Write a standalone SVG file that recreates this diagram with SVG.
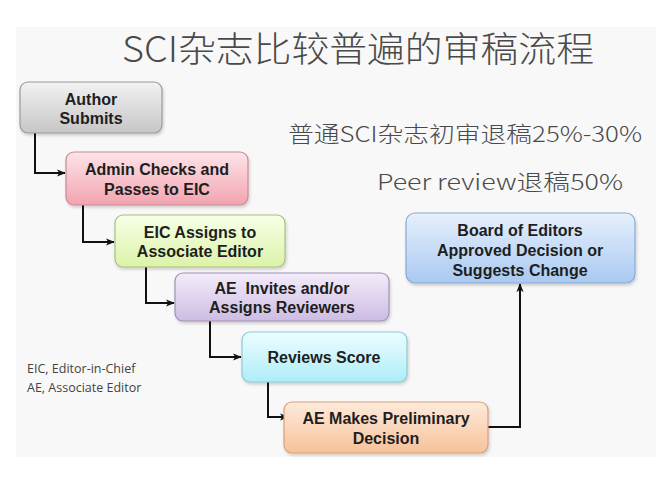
<svg xmlns="http://www.w3.org/2000/svg" width="672" height="483" viewBox="0 0 672 483">
<defs>
<linearGradient id="gGray" x1="0" y1="0" x2="0" y2="1"><stop offset="0" stop-color="#f2f2f2"/><stop offset="1" stop-color="#c6c6c6"/></linearGradient>
<linearGradient id="gPink" x1="0" y1="0" x2="0" y2="1"><stop offset="0" stop-color="#fde4e8"/><stop offset="1" stop-color="#f2a4b0"/></linearGradient>
<linearGradient id="gGreen" x1="0" y1="0" x2="0" y2="1"><stop offset="0" stop-color="#f7ffe8"/><stop offset="1" stop-color="#dcf3a8"/></linearGradient>
<linearGradient id="gPurple" x1="0" y1="0" x2="0" y2="1"><stop offset="0" stop-color="#f3ecfa"/><stop offset="1" stop-color="#cdbce3"/></linearGradient>
<linearGradient id="gCyan" x1="0" y1="0" x2="0" y2="1"><stop offset="0" stop-color="#ecfdff"/><stop offset="1" stop-color="#aeedf7"/></linearGradient>
<linearGradient id="gOrange" x1="0" y1="0" x2="0" y2="1"><stop offset="0" stop-color="#fdeadb"/><stop offset="1" stop-color="#f7c29a"/></linearGradient>
<linearGradient id="gBlue" x1="0" y1="0" x2="0" y2="1"><stop offset="0" stop-color="#e6f0fc"/><stop offset="1" stop-color="#a9c9f1"/></linearGradient>
<filter id="sh" x="-10%" y="-10%" width="130%" height="140%"><feDropShadow dx="1" dy="2" stdDeviation="1.5" flood-color="#000" flood-opacity="0.18"/></filter>
<marker id="arr" viewBox="0 0 10 10" refX="9" refY="5" markerWidth="9" markerHeight="9" orient="auto" markerUnits="userSpaceOnUse"><path d="M0,1 L10,5 L0,9 L2.5,5 Z" fill="#111"/></marker>
</defs>
<style>
.box{stroke-width:1.2;filter:url(#sh)}
.bt{font-family:"Liberation Sans",Arial,sans-serif;font-weight:bold;font-size:16px;fill:#1e1e1e;text-anchor:middle}
.cn{font-family:"Noto Sans CJK SC","Noto Sans",sans-serif;fill:#4a4a4a;font-weight:300}
.lg{font-family:"Open Sans","Noto Sans",sans-serif;font-size:12.5px;fill:#444}
.con{fill:none;stroke:#111;stroke-width:2}
</style>
<rect x="0" y="0" width="672" height="483" fill="#ffffff"/>
<rect x="16" y="27" width="640" height="430" fill="#f8f8f8"/>
<text class="cn" x="358" y="62" font-size="35" text-anchor="middle" textLength="472" lengthAdjust="spacingAndGlyphs">SCI杂志比较普遍的审稿流程</text>
<text class="cn" x="288" y="142" font-size="22" textLength="354" lengthAdjust="spacingAndGlyphs">普通SCI杂志初审退稿25%-30%</text>
<text class="cn" x="377" y="190" font-size="22" textLength="246" lengthAdjust="spacingAndGlyphs">Peer review退稿50%</text>
<g id="legend">
<text class="lg" x="27" y="373">EIC, Editor-in-Chief</text>
<text class="lg" x="27" y="392">AE, Associate Editor</text>
</g>
<g id="connectors">
<path class="con" d="M35,133 V173 H65" marker-end="url(#arr)"/>
<path class="con" d="M83,205 V242 H114" marker-end="url(#arr)"/>
<path class="con" d="M146,267 V303 H174" marker-end="url(#arr)"/>
<path class="con" d="M210,321 V357 H241" marker-end="url(#arr)"/>
<path class="con" d="M268,382 V417 H288" marker-end="url(#arr)"/>
<path class="con" d="M488,427 H520 V284" marker-end="url(#arr)"/>
</g>
<g id="author">
<rect class="box" x="20" y="82" width="142" height="51" rx="8" fill="url(#gGray)" stroke="#9a9a9a"/>
<text class="bt" x="91" y="105">Author</text>
<text class="bt" x="91" y="124">Submits</text>
</g>
<g id="admin">
<rect class="box" x="66" y="152" width="182" height="53" rx="8" fill="url(#gPink)" stroke="#c98a94"/>
<text class="bt" x="157" y="175">Admin Checks and</text>
<text class="bt" x="157" y="195">Passes to EIC</text>
</g>
<g id="eic">
<rect class="box" x="115" y="215" width="170" height="52" rx="8" fill="url(#gGreen)" stroke="#a9c07c"/>
<text class="bt" x="200" y="238">EIC Assigns to</text>
<text class="bt" x="200" y="257">Associate Editor</text>
</g>
<g id="ae-invites">
<rect class="box" x="175" y="273" width="214" height="48" rx="8" fill="url(#gPurple)" stroke="#a190b6"/>
<text class="bt" x="282" y="294" xml:space="preserve">AE  Invites and/or</text>
<text class="bt" x="282" y="313">Assigns Reviewers</text>
</g>
<g id="reviews">
<rect class="box" x="242" y="332" width="165" height="50" rx="8" fill="url(#gCyan)" stroke="#8ccad3"/>
<text class="bt" x="324" y="363">Reviews Score</text>
</g>
<g id="ae-decision">
<rect class="box" x="284" y="402" width="204" height="51" rx="8" fill="url(#gOrange)" stroke="#d8a07a"/>
<text class="bt" x="386" y="424">AE Makes Preliminary</text>
<text class="bt" x="386" y="444">Decision</text>
</g>
<g id="board">
<rect class="box" x="406" y="213" width="229" height="70" rx="9" fill="url(#gBlue)" stroke="#8aaad2"/>
<text class="bt" x="520" y="236">Board of Editors</text>
<text class="bt" x="520" y="256">Approved Decision or</text>
<text class="bt" x="520" y="276">Suggests Change</text>
</g>
</svg>
